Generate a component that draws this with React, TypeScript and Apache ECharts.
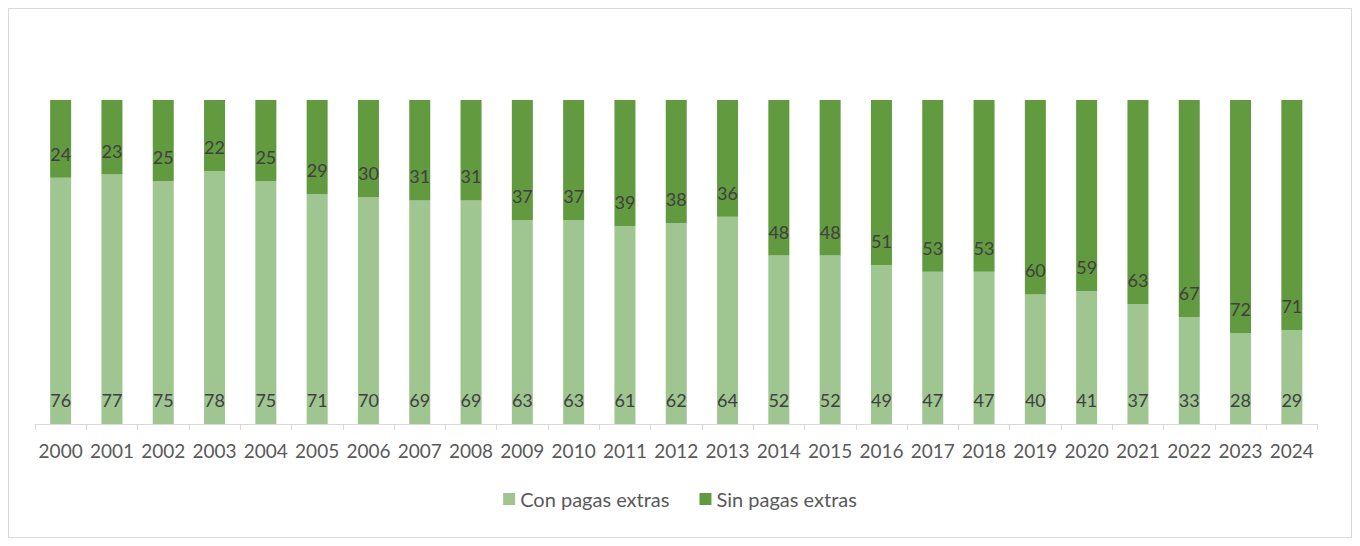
import React, { useEffect, useRef } from 'react'
import * as echarts from 'echarts'

const years = [
  '2000', '2001', '2002', '2003', '2004', '2005', '2006', '2007', '2008', '2009',
  '2010', '2011', '2012', '2013', '2014', '2015', '2016', '2017', '2018', '2019',
  '2020', '2021', '2022', '2023', '2024'
]
const conPagas = [76, 77, 75, 78, 75, 71, 70, 69, 69, 63, 63, 61, 62, 64, 52, 52, 49, 47, 47, 40, 41, 37, 33, 28, 29]
const sinPagas = [24, 23, 25, 22, 25, 29, 30, 31, 31, 37, 37, 39, 38, 36, 48, 48, 51, 53, 53, 60, 59, 63, 67, 72, 71]

const FONT = 'Lato, "Open Sans", sans-serif'

const App: React.FC = () => {
  const chartRef = useRef<HTMLDivElement>(null)

  useEffect(() => {
    if (!chartRef.current) return
    const chart = echarts.init(chartRef.current, undefined, { renderer: 'svg' })

    const label = {
      show: true,
      position: 'insideBottom' as const,
      distance: 15,
      color: '#404040',
      fontSize: 18,
      fontFamily: FONT
    }

    chart.setOption({
      animation: false,
      backgroundColor: '#ffffff',
      grid: { left: 26, right: 33.5, top: 91, bottom: 113 },
      legend: {
        bottom: 23,
        left: 'center',
        itemWidth: 12,
        itemHeight: 12,
        itemGap: 30,
        icon: 'rect',
        textStyle: { color: '#595959', fontSize: 20, fontFamily: FONT },
        data: ['Con pagas extras', 'Sin pagas extras']
      },
      xAxis: {
        type: 'category',
        data: years,
        axisLine: { lineStyle: { color: '#d9d9d9', width: 1 } },
        axisTick: { show: true, length: 6, lineStyle: { color: '#d9d9d9' } },
        axisLabel: { color: '#595959', fontSize: 19, fontFamily: FONT, margin: 17, interval: 0 }
      },
      yAxis: {
        type: 'value',
        min: 0,
        max: 100,
        show: false
      },
      series: [
        {
          name: 'Con pagas extras',
          type: 'bar',
          stack: 'total',
          barWidth: 21,
          data: conPagas,
          itemStyle: { color: '#9fc591' },
          label
        },
        {
          name: 'Sin pagas extras',
          type: 'bar',
          stack: 'total',
          barWidth: 21,
          data: sinPagas,
          itemStyle: { color: '#629a3f' },
          label
        }
      ]
    })

    return () => {
      chart.dispose()
    }
  }, [])

  return (
    <div
      ref={chartRef}
      style={{ width: 1342, height: 528, border: '1px solid #d9d9d9' }}
    />
  )
}

export default App
